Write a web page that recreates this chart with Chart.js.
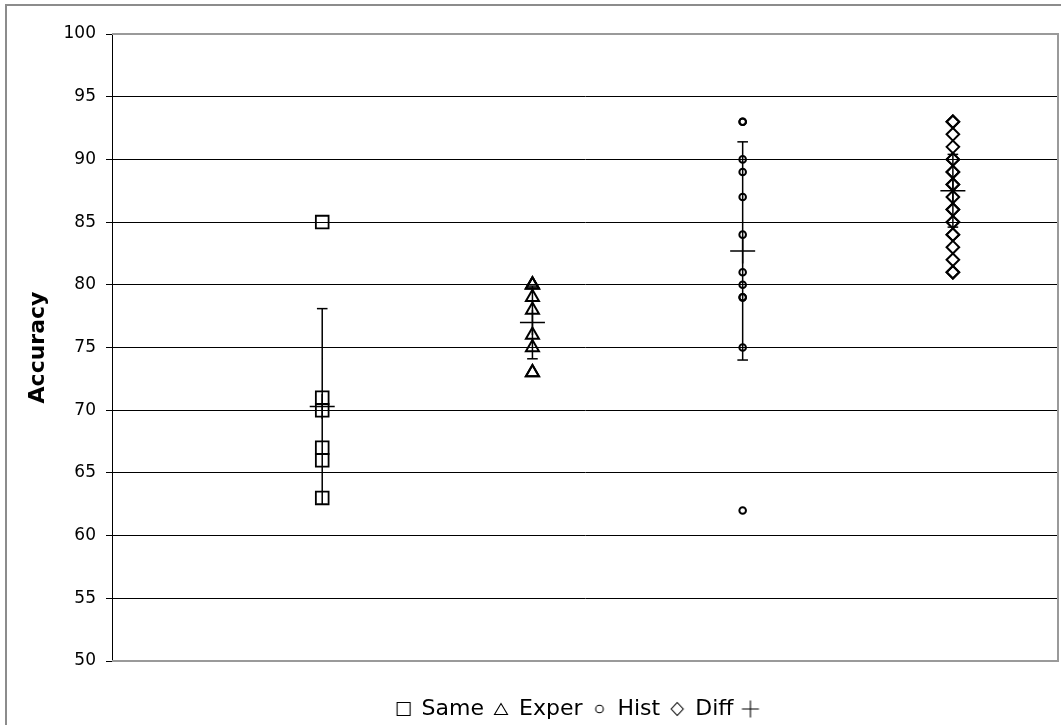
<!DOCTYPE html>
<html>
<head>
<meta charset="utf-8">
<script src="https://cdn.jsdelivr.net/npm/chart.js@4.4.1/dist/chart.umd.min.js"></script>
<style>
  html, body { margin: 0; padding: 0; background: #fff; overflow: hidden; }
  #frame { position: absolute; left: 5px; top: 4px; width: 1151px; height: 760px; border: 2px solid #8c8c8c; }
  canvas { display: block; }
</style>
</head>
<body>
<div id="frame"><canvas id="acc-chart" width="1151" height="760"></canvas></div>
<script>
// values
const categories = ["Same", "Exper", "Hist", "Diff"];
const sameAcc = [85, 71, 70, 67, 66, 63];
const experAcc = [80, 80, 80, 79, 78, 76, 75, 73, 73];
const histAcc = [93, 93, 90, 89, 87, 84, 81, 80, 79, 79, 75, 62];
const diffAcc = [93, 93, 92, 91, 90, 90, 89, 89, 88, 88, 87, 86, 86, 85, 85, 84, 84, 83, 82, 81, 81];
const meanAcc = [70.3, 77.0, 82.7, 87.5];
const sdAcc = [7.8, 2.9, 8.7, 2.9];
const yTicks = [50, 55, 60, 65, 70, 75, 80, 85, 90, 95, 100];

const FONT = "'DejaVu Sans', Verdana, sans-serif";

const toPoints = (vals, i) => vals.map(v => ({ x: i + 1, y: v }));

const errData = [];
meanAcc.forEach((m, i) => {
  errData.push({ x: i + 1, y: m - sdAcc[i] }, { x: i + 1, y: m + sdAcc[i] }, { x: i + 1.5, y: null });
});

// small legend glyphs
function legendIcon(kind) {
  const c = document.createElement("canvas");
  c.width = 20; c.height = 20;
  const g = c.getContext("2d");
  g.strokeStyle = "#000";
  g.lineWidth = 1.1;
  g.beginPath();
  if (kind === "rect") g.rect(3.5, 3.5, 13, 13);
  if (kind === "triangle") { g.moveTo(10, 4.5); g.lineTo(16.5, 15.5); g.lineTo(3.5, 15.5); g.closePath(); }
  if (kind === "circle") g.arc(10, 10, 3.8, 0, Math.PI * 2);
  if (kind === "diamond") { g.moveTo(10, 3.5); g.lineTo(16, 10); g.lineTo(10, 16.5); g.lineTo(4, 10); g.closePath(); }
  if (kind === "cross") { g.moveTo(1.5, 10); g.lineTo(18.5, 10); g.moveTo(10, 1.5); g.lineTo(10, 18.5); }
  g.stroke();
  return c;
}
const legendIcons = ["rect", "triangle", "circle", "diamond", "cross"].map(legendIcon);

const plotBorder = {
  id: "plotBorder",
  beforeDatasetsDraw(chart) {
    const { ctx, chartArea: a } = chart;
    ctx.save();
    ctx.strokeStyle = "#9a9a9a";
    ctx.lineWidth = 2;
    ctx.beginPath();
    ctx.moveTo(a.left, a.top);
    ctx.lineTo(a.right, a.top);
    ctx.lineTo(a.right, a.bottom);
    ctx.lineTo(a.left, a.bottom);
    ctx.stroke();
    ctx.restore();
  }
};

const marker = (style, radius, width) => ({
  pointStyle: style,
  pointRadius: radius,
  pointHoverRadius: radius,
  pointBorderWidth: width,
  borderColor: "#000",
  backgroundColor: "rgba(0,0,0,0)",
  showLine: false
});

const config = {
  type: "scatter",
  data: {
    datasets: [
      { label: categories[0], data: toPoints(sameAcc, 0), ...marker("rect", 9, 1.8) },
      { label: categories[1], data: toPoints(experAcc, 1), ...marker("triangle", 7.5, 2) },
      { label: categories[2], data: toPoints(histAcc, 2), ...marker("circle", 3.3, 2) },
      { label: categories[3], data: toPoints(diffAcc, 3), ...marker("rectRot", 6.3, 2) },
      { label: "", data: meanAcc.map((m, i) => ({ x: i + 1, y: m })), ...marker("cross", 12.5, 1.5) },
      {
        label: "sd",
        data: errData,
        showLine: true,
        spanGaps: false,
        borderColor: "#000",
        borderWidth: 1.5,
        pointStyle: "line",
        pointRadius: 5.3,
        pointBorderWidth: 1.5,
        pointBorderColor: "#000"
      }
    ]
  },
  options: {
    responsive: false,
    animation: false,
    devicePixelRatio: 1,
    layout: { padding: { top: 28, left: 0, right: 0, bottom: 36 } },
    plugins: {
      tooltip: { enabled: false },
      legend: {
        position: "bottom",
        align: "center",
        labels: {
          usePointStyle: true,
          boxWidth: 14,
          boxHeight: 14,
          padding: 10,
          color: "#000",
          font: { family: FONT, size: 22 },
          generateLabels: chart => chart.data.datasets.slice(0, 5).map((ds, i) => ({
            text: ds.label,
            pointStyle: legendIcons[i],
            fillStyle: "rgba(0,0,0,0)",
            strokeStyle: "rgba(0,0,0,0)",
            lineWidth: 0,
            fontColor: "#000",
            hidden: false,
            datasetIndex: i
          }))
        }
      }
    },
    scales: {
      x: {
        type: "linear",
        min: 0,
        max: 4.5,
        display: true,
        grid: { display: false },
        ticks: { display: false },
        border: { display: false },
        afterFit: s => { s.height = 27; }
      },
      y: {
        min: 50,
        max: 100,
        afterBuildTicks: s => { s.ticks = yTicks.map(v => ({ value: v })); },
        afterFit: s => { s.width = 105; },
        ticks: {
          color: "#000",
          padding: 10,
          font: { family: FONT, size: 17 }
        },
        grid: {
          color: "#000",
          lineWidth: 1,
          tickLength: 6
        },
        border: { color: "#000", width: 1 },
        title: {
          display: true,
          text: "Accuracy",
          color: "#000",
          padding: { top: 18, bottom: 0 },
          font: { family: FONT, size: 22, weight: "bold" }
        }
      },
      yRight: {
        type: "linear",
        position: "right",
        display: true,
        grid: { display: false },
        ticks: { display: false },
        border: { display: false },
        afterFit: s => { s.width = 100; }
      }
    }
  },
  plugins: [plotBorder]
};

const ctx = document.getElementById("acc-chart").getContext("2d");
new Chart(ctx, config);
</script>
</body>
</html>
